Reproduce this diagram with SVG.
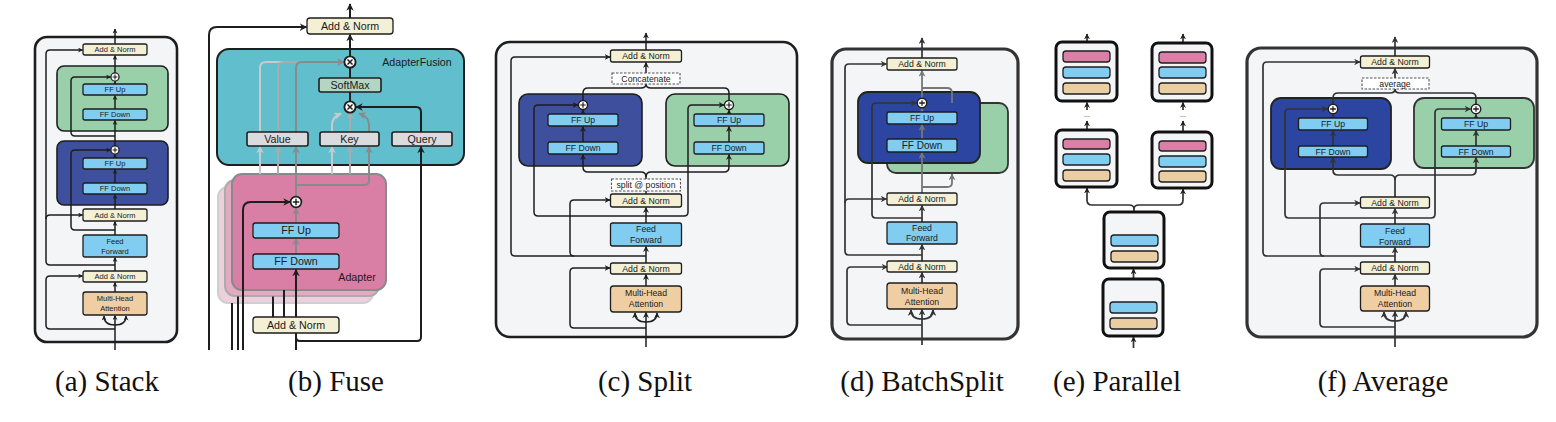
<svg xmlns="http://www.w3.org/2000/svg" xmlns:xlink="http://www.w3.org/1999/xlink" width="1556" height="422" viewBox="0 0 1556 422">
<style>
.outer{fill:#f4f5f7;stroke:#1e1e1e;stroke-width:2.6}
.outd{fill:#f4f5f7;stroke:#333;stroke-width:3.2}
.an{fill:#f3f0d5;stroke:#1e1e1e;stroke-width:1.3}
.ff{fill:#80cdf1;stroke:#1e1e1e;stroke-width:1.3}
.mha{fill:#efcea4;stroke:#1e1e1e;stroke-width:1.3}
.dash{fill:#fff;stroke:#555;stroke-width:1.1;stroke-dasharray:2.5 1.5}
.blue{fill:#3e4f9e;stroke:#1e1e1e;stroke-width:1.6}
.blue2{fill:#2c45a0;stroke:#222;stroke-width:1.8}
.green{fill:#99cfa9;stroke:#1e1e1e;stroke-width:1.6}
.teal{fill:#61bfcd;stroke:#1e1e1e;stroke-width:2}
.gry{fill:#d9dbdf;stroke:#1e1e1e;stroke-width:1.6}
.soft{fill:#b4d5c3;stroke:#1e1e1e;stroke-width:1.6}
.blk{fill:#f4f5f7;stroke:#111;stroke-width:3}
.pk{fill:#da7fa6;stroke:#1e1e1e;stroke-width:1.3}
.bl{fill:#80cdf1;stroke:#1e1e1e;stroke-width:1.3}
.tn{fill:#ebcda3;stroke:#1e1e1e;stroke-width:1.3}
.ln{fill:none;stroke:#1e1e1e;stroke-width:1.5}
.lnd{fill:none;stroke:#333;stroke-width:1.7}
.lnb{fill:none;stroke:#1e1e1e;stroke-width:2}
.t{font-family:"Liberation Sans",Arial,sans-serif;fill:#1a1a1a;text-anchor:middle}
.s7{font-size:7.5px}
.s8{font-size:8.7px}
.s10{font-size:10.7px}
.cap{font-family:"Liberation Serif","Times New Roman",serif;font-size:29px;fill:#111;text-anchor:middle}
</style>
<defs>
<marker id="m5" viewBox="0 0 10 10" refX="9" refY="5" markerWidth="5" markerHeight="5" markerUnits="userSpaceOnUse" orient="auto"><path d="M0,0L10,5L0,10L3,5z" fill="#1e1e1e"/></marker>
<marker id="m" viewBox="0 0 10 10" refX="9" refY="5" markerWidth="6" markerHeight="6" markerUnits="userSpaceOnUse" orient="auto"><path d="M0,0L10,5L0,10L3,5z" fill="#1e1e1e"/></marker>
<marker id="md" viewBox="0 0 10 10" refX="9" refY="5" markerWidth="6.5" markerHeight="6.5" markerUnits="userSpaceOnUse" orient="auto"><path d="M0,0L10,5L0,10L3,5z" fill="#333"/></marker>
<marker id="mgd" viewBox="0 0 10 10" refX="9" refY="5" markerWidth="7" markerHeight="7" markerUnits="userSpaceOnUse" orient="auto"><path d="M0,0L10,5L0,10L3,5z" fill="#777"/></marker>
<marker id="mb" viewBox="0 0 10 10" refX="9" refY="5" markerWidth="7.5" markerHeight="7.5" markerUnits="userSpaceOnUse" orient="auto"><path d="M0,0L10,5L0,10L3,5z" fill="#1e1e1e"/></marker>
<marker id="mg1" viewBox="0 0 10 10" refX="9" refY="5" markerWidth="7.5" markerHeight="7.5" markerUnits="userSpaceOnUse" orient="auto"><path d="M0,0L10,5L0,10L3,5z" fill="#8a8a8a"/></marker>
<marker id="mg2" viewBox="0 0 10 10" refX="9" refY="5" markerWidth="7.5" markerHeight="7.5" markerUnits="userSpaceOnUse" orient="auto"><path d="M0,0L10,5L0,10L3,5z" fill="#ababab"/></marker>
<marker id="mg3" viewBox="0 0 10 10" refX="9" refY="5" markerWidth="7.5" markerHeight="7.5" markerUnits="userSpaceOnUse" orient="auto"><path d="M0,0L10,5L0,10L3,5z" fill="#cacaca"/></marker>
<g id="op"><circle r="4.5" fill="#fff" stroke="#1e1e1e" stroke-width="1.4"/><path d="M-2.7,0H2.7M0,-2.7V2.7" stroke="#1e1e1e" stroke-width="1.2"/></g>
<g id="ox"><circle r="5.6" fill="#fff" stroke="#1e1e1e" stroke-width="1.9"/><path d="M-2.5,-2.5L2.5,2.5M-2.5,2.5L2.5,-2.5" stroke="#1e1e1e" stroke-width="1.5"/></g>
</defs>
<rect width="1556" height="422" fill="#fff"/>

<!-- ===== (a) Stack ===== -->
<g id="panel-a">
<rect class="outer" x="35" y="37" width="142" height="305" rx="12"/>
<g id="a-adapter2"><rect class="green" x="57" y="66" width="111" height="65" rx="7"/></g>
<g id="a-adapter1"><rect class="blue" x="57" y="141" width="111" height="64" rx="7"/></g>
<g id="a-connectors">
<path class="ln" marker-end="url(#m5)" d="M115,44V29"/>
<path class="ln" marker-end="url(#m5)" d="M115,73V55.5"/>
<path class="ln" marker-end="url(#m5)" d="M115,84V81.5"/>
<path class="ln" marker-end="url(#m5)" d="M115,109V95.5"/>
<path class="ln" marker-end="url(#m5)" d="M115,146V120.5"/>
<path class="ln" marker-end="url(#m5)" d="M115,158V154.5"/>
<path class="ln" marker-end="url(#m5)" d="M115,183V169.5"/>
<path class="ln" marker-end="url(#m5)" d="M115,209V194.5"/>
<path class="ln" marker-end="url(#m5)" d="M115,235V221.5"/>
<path class="ln" marker-end="url(#m5)" d="M115,271V257.5"/>
<path class="ln" marker-end="url(#m5)" d="M115,292V282.5"/>
<path class="ln" marker-end="url(#m5)" d="M115,350V315.5"/>
<path class="ln" marker-end="url(#m5)" d="M115,325Q104,325 104,316"/>
<path class="ln" marker-end="url(#m5)" d="M115,325Q126,325 126,316"/>
<path class="ln" marker-end="url(#m5)" d="M115,329H50Q46,329 46,325V280Q46,276 50,276H82.5"/>
<path class="ln" marker-end="url(#m5)" d="M115,265H50Q46,265 46,261V54Q46,50 50,50H82.5"/>
<path class="ln" marker-end="url(#m5)" d="M46,219Q46,215 50,215H82.5"/>
<path class="ln" marker-end="url(#m5)" d="M115,230H75Q71,230 71,226V154Q71,150 75,150H110.5"/>
<path class="ln" marker-end="url(#m5)" d="M115,136H75Q71,136 71,132V81Q71,77 75,77H110.5"/>
</g>
<g id="a-addnorm3"><rect class="an" x="83" y="44" width="64" height="11" rx="2"/><text class="t s7" x="115" y="52.1">Add &amp; Norm</text></g>
<g id="a-plus2"><use xlink:href="#op" href="#op" transform="translate(115,77) scale(0.9)"/></g>
<g id="a-ffup2"><rect class="ff" x="83" y="84" width="64" height="11" rx="2"/><text class="t s7" x="115" y="92.1">FF Up</text></g>
<g id="a-ffdown2"><rect class="ff" x="83" y="109" width="64" height="11" rx="2"/><text class="t s7" x="115" y="117.1">FF Down</text></g>
<g id="a-plus1"><use xlink:href="#op" href="#op" transform="translate(115,150) scale(0.9)"/></g>
<g id="a-ffup1"><rect class="ff" x="83" y="158" width="64" height="11" rx="2"/><text class="t s7" x="115" y="166.1">FF Up</text></g>
<g id="a-ffdown1"><rect class="ff" x="83" y="183" width="64" height="11" rx="2"/><text class="t s7" x="115" y="191.1">FF Down</text></g>
<g id="a-addnorm2"><rect class="an" x="83" y="209" width="64" height="12" rx="2"/><text class="t s7" x="115" y="217.6">Add &amp; Norm</text></g>
<g id="a-ff"><rect class="ff" x="83" y="235" width="64" height="22" rx="2"/><text class="t s7" x="115" y="243.6">Feed</text><text class="t s7" x="115" y="253.6">Forward</text></g>
<g id="a-addnorm1"><rect class="an" x="83" y="271" width="64" height="11" rx="2"/><text class="t s7" x="115" y="279.1">Add &amp; Norm</text></g>
<g id="a-mha"><rect class="mha" x="83" y="292" width="64" height="23" rx="2.5"/><text class="t s7" x="115" y="300.9">Multi-Head</text><text class="t s7" x="115" y="310.9">Attention</text></g>
</g>

<!-- ===== (b) Fuse ===== -->
<g id="panel-b">
<g id="b-fusion"><rect class="teal" x="217" y="49" width="247" height="116" rx="12"/><text class="t s10" x="417" y="65.7">AdapterFusion</text></g>
<g id="b-adapter-stack">
<rect x="218" y="187" width="155" height="116" rx="10" fill="#ecd0dc" stroke="#cfcfcf" stroke-width="2"/>
<rect x="225" y="180" width="154" height="116" rx="10" fill="#e3aac2" stroke="#ababab" stroke-width="2"/>
<rect x="232" y="174" width="154" height="116" rx="10" fill="#d97fa6" stroke="#8a8a8a" stroke-width="2"/>
<text class="t s10" x="357" y="280.7">Adapter</text>
</g>
<g id="b-connectors">
<path class="lnb" marker-end="url(#mb)" d="M350,18V4"/>
<path class="lnb" marker-end="url(#mb)" d="M350,56.5V34.5"/>
<path class="lnb" d="M350,78V67.5"/>
<path class="lnb" d="M350,101.5V92"/>
<path class="lnb" marker-end="url(#mb)" d="M209,350V35Q209,27 217,27H306.5"/>
<path class="lnb" d="M296,333V350"/>
<path class="lnb" marker-end="url(#mb)" d="M296,337Q296,341 300,341H417Q421,341 421,337V146.5"/>
<path class="lnb" marker-end="url(#mb)" d="M421,132V112Q421,107 416,107H356"/>
<path fill="none" stroke="#cacaca" stroke-width="2" marker-end="url(#mg3)" d="M260,174V146.5"/>
<path fill="none" stroke="#cacaca" stroke-width="2" d="M260,132V68Q260,62 266,62H344"/>
<path fill="none" stroke="#ababab" stroke-width="2" marker-end="url(#mg2)" d="M278,174V146.5"/>
<path fill="none" stroke="#ababab" stroke-width="2" d="M278,132V68Q278,62 284,62H344"/>
<path fill="none" stroke="#8a8a8a" stroke-width="2" marker-end="url(#mg1)" d="M296,196.5V146.5"/>
<path fill="none" stroke="#8a8a8a" stroke-width="2" marker-end="url(#mg1)" d="M296,132V68Q296,62 302,62H344"/>
<path fill="none" stroke="#8a8a8a" stroke-width="2" marker-end="url(#mg1)" d="M296,185H364Q369,185 369,180V146.5"/>
<path fill="none" stroke="#cacaca" stroke-width="2" marker-end="url(#mg3)" d="M332,174V146.5"/>
<path fill="none" stroke="#cacaca" stroke-width="2" marker-end="url(#mg3)" d="M332,132V125C332,119 335,116 341,113.5"/>
<path fill="none" stroke="#ababab" stroke-width="2" marker-end="url(#mg2)" d="M350,174V146.5"/>
<path fill="none" stroke="#ababab" stroke-width="2" marker-end="url(#mg2)" d="M350,132V112.5"/>
<path fill="none" stroke="#8a8a8a" stroke-width="2" marker-end="url(#mg1)" d="M369,132V125C369,119 366,116 359,113.5"/>
<path fill="none" stroke="#8a8a8a" stroke-width="2" marker-end="url(#mg1)" d="M296,223V208"/>
<path fill="none" stroke="#8a8a8a" stroke-width="2" marker-end="url(#mg1)" d="M296,254V238.5"/>
<path class="lnb" marker-end="url(#mb)" d="M296,317V269.5"/>
<path class="lnb" marker-end="url(#mb)" d="M243,350V210Q243,202 251,202H290"/>
<path class="lnb" d="M232,350V303"/>
<path class="lnb" d="M238,350V296.5"/>
<path class="lnb" d="M273,317V296.5"/>
<path class="lnb" d="M284,317V290"/>
</g>
<g id="b-addnorm-top"><rect class="an" x="307" y="18" width="86" height="16" rx="3" stroke-width="1.8"/><text class="t s10" x="350" y="29.7">Add &amp; Norm</text></g>
<g id="b-mul-top"><use xlink:href="#ox" href="#ox" transform="translate(350,62)"/></g>
<g id="b-softmax"><rect class="soft" x="319" y="78" width="62" height="14" rx="2"/><text class="t s10" x="350" y="88.7">SoftMax</text></g>
<g id="b-mul-low"><use xlink:href="#ox" href="#ox" transform="translate(350,107)"/></g>
<g id="b-value"><rect class="gry" x="247" y="132" width="61" height="14" rx="2"/><text class="t s10" x="277.5" y="142.7">Value</text></g>
<g id="b-key"><rect class="gry" x="320" y="132" width="59" height="14" rx="2"/><text class="t s10" x="349.5" y="142.7">Key</text></g>
<g id="b-query"><rect class="gry" x="392" y="132" width="60" height="14" rx="2"/><text class="t s10" x="422" y="142.7">Query</text></g>
<g id="b-plus"><use xlink:href="#op" href="#op" transform="translate(296,202) scale(1.2)"/></g>
<g id="b-ffup"><rect class="ff" x="253" y="223" width="86" height="15" rx="2.5" stroke-width="1.8"/><text class="t s10" x="296" y="234.2">FF Up</text></g>
<g id="b-ffdown"><rect class="ff" x="253" y="254" width="86" height="15" rx="2.5" stroke-width="1.8"/><text class="t s10" x="296" y="265.2">FF Down</text></g>
<g id="b-addnorm-low"><rect class="an" x="253" y="317" width="86" height="16" rx="3" stroke-width="1.8"/><text class="t s10" x="296" y="328.7">Add &amp; Norm</text></g>
</g>

<!-- ===== (c) Split ===== -->
<g id="panel-c">
<rect class="outer" x="496" y="42" width="301" height="295" rx="14" stroke-width="3"/>
<g id="c-adapter1"><rect class="blue" x="519" y="94" width="123" height="72" rx="9"/></g>
<g id="c-adapter2"><rect class="green" x="666" y="94" width="123" height="72" rx="9"/></g>
<g id="c-connectors">
<path class="ln" marker-end="url(#m)" d="M646,50V33"/>
<path class="ln" marker-end="url(#m)" d="M646,73V62.5"/>
<path class="ln" d="M583,100.5V93Q583,88 588,88H641Q646,88 646,84"/>
<path class="ln" d="M729,100.5V93Q729,88 724,88H651Q646,88 646,84"/>
<path class="ln" marker-end="url(#m)" d="M583,114V110"/>
<path class="ln" marker-end="url(#m)" d="M583,142V126.5"/>
<path class="ln" marker-end="url(#m)" d="M729,114V110"/>
<path class="ln" marker-end="url(#m)" d="M729,142V126.5"/>
<path class="ln" marker-end="url(#m)" d="M646,179V177Q646,172 641,172H588Q583,172 583,167V154.5"/>
<path class="ln" marker-end="url(#m)" d="M646,177Q646,172 651,172H724Q729,172 729,167V154.5"/>
<path class="ln" d="M646,194V191"/>
<path class="ln" marker-end="url(#m)" d="M646,223V207.5"/>
<path class="ln" marker-end="url(#m)" d="M646,263V246.5"/>
<path class="ln" marker-end="url(#m)" d="M646,286V274.5"/>
<path class="ln" marker-end="url(#m)" d="M646,347V312.5"/>
<path class="ln" marker-end="url(#m)" d="M646,322Q635,322 635,313"/>
<path class="ln" marker-end="url(#m)" d="M646,322Q657,322 657,313"/>
<path class="ln" marker-end="url(#m)" d="M646,328H574Q570,328 570,324V272Q570,268 574,268H610"/>
<path class="ln" marker-end="url(#m)" d="M646,256H515Q511,256 511,252V61Q511,57 515,57H610"/>
<path class="ln" marker-end="url(#m)" d="M574,256Q570,256 570,252V204Q570,200 574,200H610"/>
<path class="ln" marker-end="url(#m)" d="M646,216H538Q534,216 534,212V109Q534,105 538,105H578"/>
<path class="ln" marker-end="url(#m)" d="M646,216H684Q688,216 688,212V109Q688,105 692,105H724"/>
</g>
<g id="c-addnorm3"><rect class="an" x="610.5" y="50" width="71" height="12" rx="2"/><text class="t s8" x="646" y="59">Add &amp; Norm</text></g>
<g id="c-concat"><rect class="dash" x="612" y="73" width="68" height="11"/><text class="t s8" x="646" y="81.5">Concatenate</text></g>
<g id="c-plus1"><use xlink:href="#op" href="#op" transform="translate(583,105)"/></g>
<g id="c-plus2"><use xlink:href="#op" href="#op" transform="translate(729,105)"/></g>
<g id="c-ffup1"><rect class="ff" x="548" y="114" width="70" height="12" rx="2"/><text class="t s8" x="583" y="123">FF Up</text></g>
<g id="c-ffdown1"><rect class="ff" x="548" y="142" width="70" height="12" rx="2"/><text class="t s8" x="583" y="151">FF Down</text></g>
<g id="c-ffup2"><rect class="ff" x="694" y="114" width="70" height="12" rx="2"/><text class="t s8" x="729" y="123">FF Up</text></g>
<g id="c-ffdown2"><rect class="ff" x="694" y="142" width="70" height="12" rx="2"/><text class="t s8" x="729" y="151">FF Down</text></g>
<g id="c-split"><rect class="dash" x="611.5" y="179" width="69" height="12"/><text class="t s8" x="646" y="188">split @ position</text></g>
<g id="c-addnorm2"><rect class="an" x="610.5" y="194" width="71" height="13" rx="2"/><text class="t s8" x="646" y="203.5">Add &amp; Norm</text></g>
<g id="c-ff"><rect class="ff" x="610.5" y="223" width="71" height="23" rx="2"/><text class="t s8" x="646" y="232.3">Feed</text><text class="t s8" x="646" y="243">Forward</text></g>
<g id="c-addnorm1"><rect class="an" x="610.5" y="263" width="71" height="11" rx="2"/><text class="t s8" x="646" y="271.5">Add &amp; Norm</text></g>
<g id="c-mha"><rect class="mha" x="610.5" y="286" width="71" height="26" rx="3"/><text class="t s8" x="646" y="296.3">Multi-Head</text><text class="t s8" x="646" y="307">Attention</text></g>
</g>

<!-- ===== (d) BatchSplit ===== -->
<g id="panel-d">
<rect class="outd" x="832" y="49" width="186" height="290" rx="14"/>
<g id="d-adapter2"><rect x="887" y="103" width="121" height="70" rx="9" fill="#99cfa9" stroke="#333" stroke-width="1.8"/></g>
<g id="d-adapter1"><rect class="blue2" x="858" y="92" width="122" height="71" rx="10"/></g>
<g id="d-connectors">
<path class="lnd" marker-end="url(#md)" d="M922,58V38"/>
<path fill="none" stroke="#777" stroke-width="1.8" marker-end="url(#mgd)" d="M922,98V70.5"/>
<path fill="none" stroke="#777" stroke-width="1.8" d="M952,103V93Q952,88 947,88H922"/>
<path fill="none" stroke="#777" stroke-width="1.8" marker-end="url(#mgd)" d="M922,112V108.5"/>
<path fill="none" stroke="#777" stroke-width="1.8" marker-end="url(#mgd)" d="M922,139V124.5"/>
<path fill="none" stroke="#777" stroke-width="1.8" marker-end="url(#mgd)" d="M922,193V152.5"/>
<path fill="none" stroke="#777" stroke-width="1.8" marker-end="url(#mgd)" d="M922,187H947Q952,187 952,183V174"/>
<path class="lnd" marker-end="url(#md)" d="M922,218H876Q872,218 872,214V107Q872,103 876,103H916.5"/>
<path class="lnd" marker-end="url(#md)" d="M922,222V205.5"/>
<path class="lnd" marker-end="url(#md)" d="M922,261V244.5"/>
<path class="lnd" marker-end="url(#md)" d="M922,283V272.5"/>
<path class="lnd" marker-end="url(#md)" d="M922,345V309.5"/>
<path class="lnd" marker-end="url(#md)" d="M922,319Q911,319 911,310"/>
<path class="lnd" marker-end="url(#md)" d="M922,319Q933,319 933,310"/>
<path class="lnd" marker-end="url(#md)" d="M922,255H849Q845,255 845,251V68Q845,64 849,64H886.5"/>
<path class="lnd" marker-end="url(#md)" d="M845,203Q845,199 849,199H886.5"/>
<path class="lnd" marker-end="url(#md)" d="M922,325H851Q847,325 847,321V271Q847,267 851,267H887.5"/>
</g>
<g id="d-addnorm3"><rect class="an" x="887" y="58" width="70" height="12" rx="2" stroke="#333"/><text class="t s8" x="922" y="67">Add &amp; Norm</text></g>
<g id="d-plus"><use xlink:href="#op" href="#op" transform="translate(922,103) scale(1.05)"/></g>
<g id="d-ffup"><rect class="ff" x="887" y="112" width="70" height="12" rx="2" stroke="#333"/><text class="t s8" x="922" y="121">FF Up</text></g>
<g id="d-ffdown"><rect class="ff" x="887" y="139" width="70" height="13" rx="2" stroke="#333"/><text class="t" style="font-size:10px" x="922" y="149">FF Down</text></g>
<g id="d-addnorm2"><rect class="an" x="887" y="193" width="70" height="12" rx="2" stroke="#333"/><text class="t s8" x="922" y="202">Add &amp; Norm</text></g>
<g id="d-ff"><rect class="ff" x="887" y="222" width="70" height="22" rx="2" stroke="#333"/><text class="t s8" x="922" y="230.7">Feed</text><text class="t s8" x="922" y="241.3">Forward</text></g>
<g id="d-addnorm1"><rect class="an" x="887" y="261" width="70" height="11" rx="2" stroke="#333"/><text class="t s8" x="922" y="269.5">Add &amp; Norm</text></g>
<g id="d-mha"><rect class="mha" x="887" y="283" width="70" height="26" rx="3" stroke="#333"/><text class="t s8" x="922" y="294">Multi-Head</text><text class="t s8" x="922" y="304.7">Attention</text></g>
</g>

<!-- ===== (e) Parallel ===== -->
<g id="panel-e">
<g id="e-connectors">
<path class="lnd" stroke="#111" marker-end="url(#m)" d="M1087,42V34"/>
<path class="lnd" stroke="#111" marker-end="url(#m)" d="M1183,43V34"/>
<path class="lnd" stroke="#111" marker-end="url(#m)" d="M1087,130V121"/>
<path class="lnd" stroke="#111" marker-end="url(#m)" d="M1087,110V102.5"/>
<path class="lnd" stroke="#111" marker-end="url(#m)" d="M1183,132V121"/>
<path class="lnd" stroke="#111" marker-end="url(#m)" d="M1183,110V102.5"/>
<path class="lnd" stroke="#111" marker-end="url(#m)" d="M1134,212V209Q1134,205 1129,205H1092Q1087,205 1087,200V188"/>
<path class="lnd" stroke="#111" marker-end="url(#m)" d="M1134,209Q1134,205 1139,205H1178Q1183,205 1183,200V189"/>
<path class="lnd" stroke="#111" marker-end="url(#m)" d="M1133.5,279V269"/>
<path class="lnd" stroke="#111" marker-end="url(#m)" d="M1133.5,348V337"/>
</g>
<text class="t" style="font-size:7px" x="1087" y="117">...</text>
<text class="t" style="font-size:7px" x="1183" y="117">...</text>
<g id="e-top-left"><rect class="blk" x="1056" y="42" width="61" height="59" rx="6"/><rect class="pk" x="1063" y="51" width="47" height="11" rx="3"/><rect class="bl" x="1063" y="67" width="47" height="11" rx="3"/><rect class="tn" x="1063" y="83" width="47" height="11" rx="3"/></g>
<g id="e-top-right"><rect class="blk" x="1152" y="43" width="60" height="58" rx="6"/><rect class="pk" x="1159" y="52" width="47" height="11" rx="3"/><rect class="bl" x="1159" y="67" width="47" height="11" rx="3"/><rect class="tn" x="1159" y="83" width="47" height="11" rx="3"/></g>
<g id="e-mid-left"><rect class="blk" x="1056" y="130" width="61" height="57" rx="6"/><rect class="pk" x="1063" y="139" width="47" height="10" rx="3"/><rect class="bl" x="1063" y="154" width="47" height="11" rx="3"/><rect class="tn" x="1063" y="170" width="47" height="11" rx="3"/></g>
<g id="e-mid-right"><rect class="blk" x="1152" y="132" width="60" height="56" rx="6"/><rect class="pk" x="1159" y="141" width="47" height="10" rx="3"/><rect class="bl" x="1159" y="156" width="47" height="11" rx="3"/><rect class="tn" x="1159" y="171" width="47" height="11" rx="3"/></g>
<g id="e-shared2"><rect class="blk" x="1104" y="212" width="60" height="56" rx="6"/><rect class="bl" x="1111" y="235" width="47" height="11" rx="3"/><rect class="tn" x="1111" y="251" width="47" height="11" rx="3"/></g>
<g id="e-shared1"><rect class="blk" x="1103" y="279" width="60" height="57" rx="6"/><rect class="bl" x="1110" y="302" width="47" height="11" rx="3"/><rect class="tn" x="1110" y="318" width="47" height="11" rx="3"/></g>
</g>

<!-- ===== (f) Average ===== -->
<g id="panel-f">
<rect class="outd" x="1247" y="48" width="290" height="289" rx="14" stroke-width="3"/>
<g id="f-adapter1"><rect class="blue2" x="1271" y="98" width="120" height="71" rx="10"/></g>
<g id="f-adapter2"><rect x="1414" y="98" width="120" height="70" rx="10" fill="#99cfa9" stroke="#333" stroke-width="1.8"/></g>
<g id="f-connectors">
<path class="lnd" marker-end="url(#md)" d="M1395,56V37"/>
<path class="lnd" marker-end="url(#md)" d="M1395,78V68.5"/>
<path class="lnd" d="M1333,104V98Q1333,93 1338,93H1390Q1395,93 1395,89"/>
<path class="lnd" d="M1476,104V98Q1476,93 1471,93H1400Q1395,93 1395,89"/>
<path class="lnd" marker-end="url(#md)" d="M1333,118V114.5"/>
<path class="lnd" marker-end="url(#md)" d="M1333,146V130.5"/>
<path class="lnd" marker-end="url(#md)" d="M1476,118V114.5"/>
<path class="lnd" marker-end="url(#md)" d="M1476,146V130.5"/>
<path class="lnd" marker-end="url(#md)" d="M1395,197V180Q1395,175 1390,175H1338Q1333,175 1333,170V157.5"/>
<path class="lnd" marker-end="url(#md)" d="M1395,180Q1395,175 1400,175H1471Q1476,175 1476,170V157.5"/>
<path class="lnd" marker-end="url(#md)" d="M1395,224V208.5"/>
<path class="lnd" marker-end="url(#md)" d="M1395,262V247.5"/>
<path class="lnd" marker-end="url(#md)" d="M1395,286V274.5"/>
<path class="lnd" marker-end="url(#md)" d="M1395,347V311.5"/>
<path class="lnd" marker-end="url(#md)" d="M1395,321Q1384,321 1384,312"/>
<path class="lnd" marker-end="url(#md)" d="M1395,321Q1406,321 1406,312"/>
<path class="lnd" marker-end="url(#md)" d="M1395,327H1324Q1320,327 1320,323V273Q1320,269 1324,269H1360"/>
<path class="lnd" marker-end="url(#md)" d="M1395,256H1267Q1263,256 1263,252V66Q1263,62 1267,62H1360"/>
<path class="lnd" marker-end="url(#md)" d="M1324,256Q1320,256 1320,252V207Q1320,203 1324,203H1360"/>
<path class="lnd" marker-end="url(#md)" d="M1395,218H1289Q1285,218 1285,214V113Q1285,109 1289,109H1327.5"/>
<path class="lnd" marker-end="url(#md)" d="M1395,218H1431Q1435,218 1435,214V113Q1435,109 1439,109H1470.5"/>
</g>
<g id="f-addnorm3"><rect class="an" x="1360.5" y="56" width="69" height="12" rx="2" stroke="#333"/><text class="t s8" x="1395" y="65">Add &amp; Norm</text></g>
<g id="f-average"><rect class="dash" x="1362" y="78" width="67" height="11"/><text class="t s8" x="1395" y="86.5">average</text></g>
<g id="f-plus1"><use xlink:href="#op" href="#op" transform="translate(1333,109) scale(1.05)"/></g>
<g id="f-plus2"><use xlink:href="#op" href="#op" transform="translate(1476,109) scale(1.05)"/></g>
<g id="f-ffup1"><rect class="ff" x="1298.5" y="118" width="69" height="12" rx="2" stroke="#333"/><text class="t s8" x="1333" y="127">FF Up</text></g>
<g id="f-ffdown1"><rect class="ff" x="1298.5" y="146" width="69" height="11" rx="2" stroke="#333"/><text class="t s8" x="1333" y="154.5">FF Down</text></g>
<g id="f-ffup2"><rect class="ff" x="1441.5" y="118" width="69" height="12" rx="2" stroke="#333"/><text class="t s8" x="1476" y="127">FF Up</text></g>
<g id="f-ffdown2"><rect class="ff" x="1441.5" y="146" width="69" height="11" rx="2" stroke="#333"/><text class="t s8" x="1476" y="154.5">FF Down</text></g>
<g id="f-addnorm2"><rect class="an" x="1360.5" y="197" width="69" height="11" rx="2" stroke="#333"/><text class="t s8" x="1395" y="205.5">Add &amp; Norm</text></g>
<g id="f-ff"><rect class="ff" x="1360.5" y="224" width="69" height="23" rx="2" stroke="#333"/><text class="t s8" x="1395" y="234">Feed</text><text class="t s8" x="1395" y="244.7">Forward</text></g>
<g id="f-addnorm1"><rect class="an" x="1360.5" y="262" width="69" height="12" rx="2" stroke="#333"/><text class="t s8" x="1395" y="271">Add &amp; Norm</text></g>
<g id="f-mha"><rect class="mha" x="1360.5" y="286" width="69" height="25" rx="3" stroke="#333"/><text class="t s8" x="1395" y="295.7">Multi-Head</text><text class="t s8" x="1395" y="306.7">Attention</text></g>
</g>

<!-- captions -->
<g id="captions">
<text class="cap" x="107" y="391">(a) Stack</text>
<text class="cap" x="336" y="391">(b) Fuse</text>
<text class="cap" x="645" y="391">(c) Split</text>
<text class="cap" x="922" y="391">(d) BatchSplit</text>
<text class="cap" x="1117" y="391">(e) Parallel</text>
<text class="cap" x="1383" y="391">(f) Average</text>
</g>
</svg>
